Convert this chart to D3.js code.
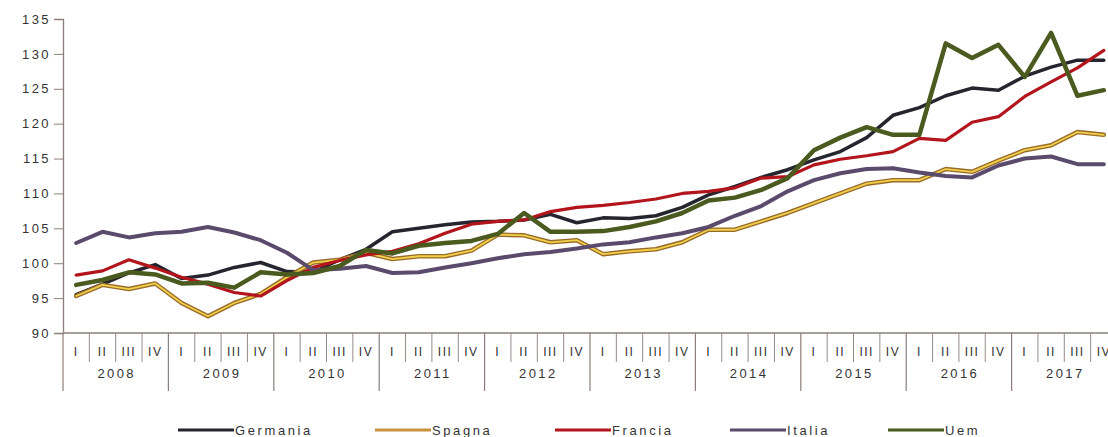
<!doctype html>
<html lang="en">
  <head>
    <meta charset="utf-8">
    <title>Indici</title>
    <style>
      * { margin: 0; border: 0; padding: 0; }
      body { background-color: #fff; }
      text { font-family: 'Liberation Sans', Arial, sans-serif; fill: #333; }
      path.serie { fill: none; stroke-linejoin: round; stroke-linecap: round; }
    </style>
  </head>
  <body>
    <div id="plot"></div>

<script src="https://cdnjs.cloudflare.com/ajax/libs/d3/7.8.5/d3.min.js"></script>
<script>

  var years = ["2008","2009","2010","2011","2012","2013","2014","2015","2016","2017"];
  var quarters = ["I","II","III","IV"];
  var yTicks = [90, 95, 100, 105, 110, 115, 120, 125, 130, 135];

  var germania = [95.5, 97.0, 98.6, 99.8, 97.8, 98.3, 99.4, 100.1, 98.8, 98.7,
                  100.5, 102.0, 104.5, 105.0, 105.5, 105.9, 106.0, 106.2, 107.0, 105.8,
                  106.5, 106.4, 106.8, 108.0, 109.8, 111.0, 112.3, 113.4, 114.8, 116.0,
                  118.0, 121.2, 122.3, 124.0, 125.1, 124.8, 126.8, 128.1, 129.1, 129.1];
  var spagna   = [95.3, 96.9, 96.3, 97.1, 94.3, 92.4, 94.3, 95.6, 98.0, 100.1,
                  100.5, 101.5, 100.6, 101.0, 101.0, 101.8, 104.1, 104.0, 103.0, 103.3,
                  101.3, 101.7, 102.0, 103.0, 104.8, 104.8, 106.0, 107.2, 108.6, 110.0,
                  111.4, 111.9, 111.9, 113.5, 113.1, 114.7, 116.2, 116.9, 118.8, 118.4];
  var francia  = [98.3, 98.9, 100.5, 99.3, 98.0, 97.0, 95.8, 95.3, 97.5, 99.4,
                  100.4, 101.2, 101.7, 102.8, 104.3, 105.6, 106.0, 106.2, 107.4, 108.0,
                  108.3, 108.7, 109.2, 110.0, 110.3, 110.8, 112.2, 112.4, 114.1, 114.9,
                  115.4, 116.0, 117.9, 117.6, 120.2, 121.0, 123.9, 126.0, 128.0, 130.5];
  var italia   = [102.9, 104.5, 103.7, 104.3, 104.5, 105.2, 104.4, 103.3, 101.5, 99.0,
                  99.2, 99.6, 98.6, 98.7, 99.4, 100.0, 100.7, 101.3, 101.6, 102.1,
                  102.7, 103.0, 103.7, 104.3, 105.2, 106.8, 108.2, 110.3, 111.9, 112.9,
                  113.5, 113.6, 113.0, 112.5, 112.3, 114.0, 115.0, 115.3, 114.2, 114.2];
  var uem      = [96.9, 97.6, 98.7, 98.4, 97.1, 97.2, 96.5, 98.7, 98.4, 98.6,
                  99.6, 101.9, 101.4, 102.5, 102.9, 103.2, 104.2, 107.2, 104.5, 104.5,
                  104.6, 105.2, 106.0, 107.2, 109.0, 109.4, 110.5, 112.2, 116.2, 118.0,
                  119.5, 118.4, 118.4, 131.5, 129.4, 131.3, 126.7, 133.0, 124.0, 124.8];

  var width  = 1108;
  var height = 437;

  var keys = [];
  years.forEach(y => quarters.forEach(q => keys.push(y + "-" + q)));

  var xscale = d3.scaleBand().domain(keys).range([63, 1117]).padding(0);
  var yscale = d3.scaleLinear().domain([90, 135]).range([333, 19]);
  var bw = xscale.bandwidth();

  var svg = d3.select("#plot").append("svg").attr("width", width).attr("height", height);

  // asse y
  var yAxis = svg.append("g").attr("transform", "translate(63,0)")
    .call(d3.axisLeft(yscale).tickValues(yTicks).tickSize(9).tickPadding(5));
  yAxis.select(".domain").attr("stroke", "#8a7f7a").attr("stroke-width", 1.3);
  yAxis.selectAll(".tick line").attr("stroke", "#8a7f7a");
  yAxis.selectAll(".tick text").attr("font-size", 13).attr("fill", "#333")
    .attr("font-family", "'Liberation Sans', Arial, sans-serif")
    .style("letter-spacing", "2.4px").attr("dx", "2");

  // asse x: linea, separatori trimestri e anni
  var xa = svg.append("g");
  xa.append("line").attr("x1", 63).attr("x2", width).attr("y1", 333).attr("y2", 333)
    .attr("stroke", "#8a7f7a").attr("stroke-width", 1.3);
  xa.selectAll("line.q").data(keys).enter().append("line")
    .attr("x1", d => xscale(d)).attr("x2", d => xscale(d))
    .attr("y1", 333).attr("y2", d => d.endsWith("-I") ? 391 : 362)
    .attr("stroke", "#8a7f7a").attr("stroke-width", d => d.endsWith("-I") ? 1.2 : 0.9);
  xa.selectAll("text.q").data(keys).enter().append("text")
    .attr("x", d => xscale(d) + bw / 2).attr("y", 356)
    .attr("text-anchor", "middle").attr("font-size", 12)
    .style("letter-spacing", "1.5px")
    .text(d => d.split("-")[1]);
  xa.selectAll("text.y").data(years).enter().append("text")
    .attr("x", d => xscale(d + "-I") + bw * 2 + 1).attr("y", 378)
    .attr("text-anchor", "middle").attr("font-size", 13)
    .style("letter-spacing", "2.4px")
    .text(d => d);

  var series = [
    {name: "Germania", values: germania, color: "#25252f", w: 3.5},
    {name: "Spagna",   values: spagna,   color: "#9a6a2a", w: 4.5, inner: "#f0d24a"},
    {name: "Francia",  values: francia,  color: "#b3151d", w: 3.2},
    {name: "Italia",   values: italia,   color: "#5a4a6c", w: 4},
    {name: "Uem",      values: uem,      color: "#4b5a1e", w: 4.5}
  ];

  var line = d3.line()
    .x((d, i) => xscale(keys[i]) + bw / 2)
    .y(d => yscale(d));

  series.forEach(s => {
    svg.append("path").attr("class", "serie").attr("d", line(s.values))
      .attr("stroke", s.color).attr("stroke-width", s.w);
    if (s.inner) {
      svg.append("path").attr("class", "serie").attr("d", line(s.values))
        .attr("stroke", s.inner).attr("stroke-width", 1.8);
    }
  });

  // legenda
  var legX = [178, 375, 555, 730, 888];
  var leg = svg.append("g");
  series.forEach((s, i) => {
    leg.append("line").attr("x1", legX[i]).attr("x2", legX[i] + 56)
      .attr("y1", 430).attr("y2", 430)
      .attr("stroke", s.inner ? "#c8923a" : s.color).attr("stroke-width", 3);
    leg.append("text").attr("x", legX[i] + 57).attr("y", 434.5)
      .attr("font-size", 13).style("letter-spacing", "2.6px")
      .text(s.name);
  });

</script>
  </body>
</html>
